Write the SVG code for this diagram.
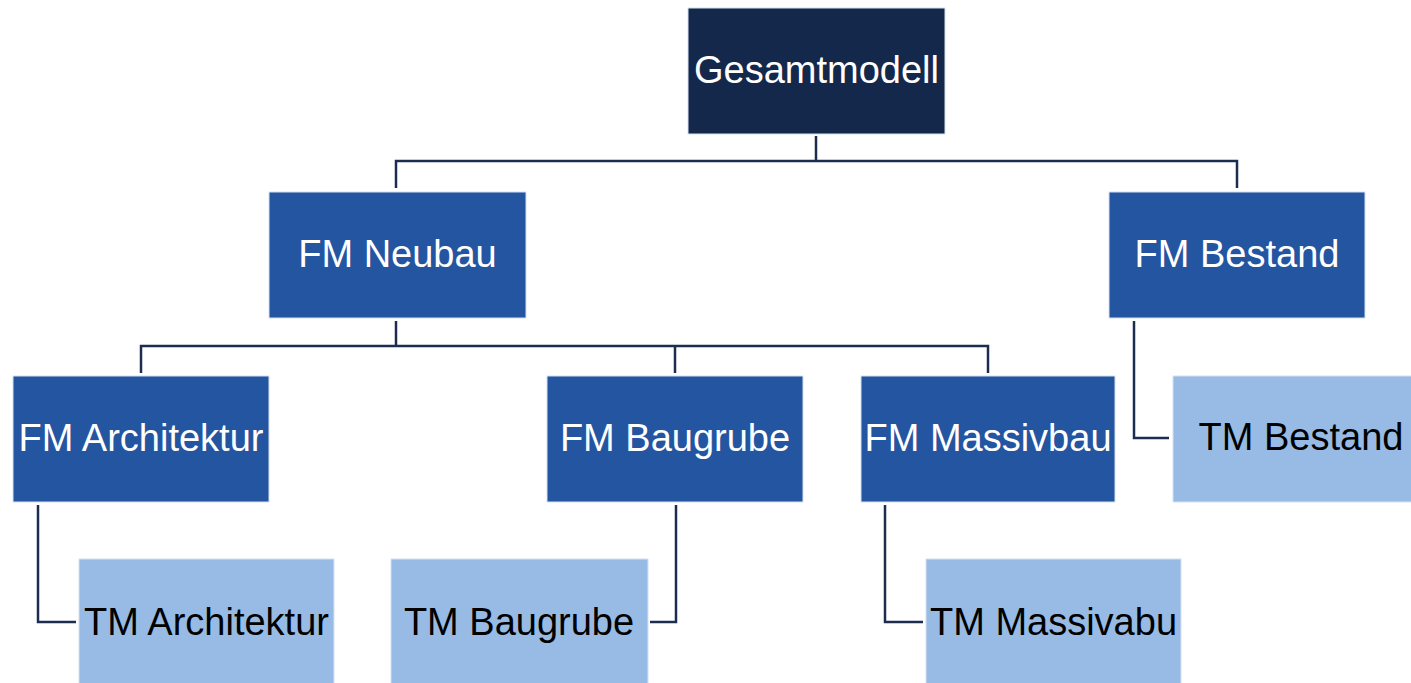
<svg xmlns="http://www.w3.org/2000/svg" width="1411" height="683" viewBox="0 0 1411 683">
<style>
.box{stroke:#d6e2f3;stroke-width:1}
.g{fill:#14284b}
.fm{fill:#2455a0}
.tm{fill:#97bbe4}
.t{font-family:"Liberation Sans",Arial,sans-serif;font-size:38px;text-anchor:middle}
.w{fill:#ffffff}
.k{fill:#000000}
.c{fill:none;stroke:#1c2d4f;stroke-width:2.5}
</style>
<rect width="1411" height="683" fill="#ffffff"/>
<g id="connectors">
<path class="c" d="M816 136V161M396 188V161H1237V188"/>
<path class="c" d="M396 321V346M141 373V346H988V373M675 346V373"/>
<path class="c" d="M38 505V622H76"/>
<path class="c" d="M676 505V622H650"/>
<path class="c" d="M885 505V622H923"/>
<path class="c" d="M1134 321V438H1169"/>
</g>
<g id="gesamtmodell"><rect class="box g" x="688" y="8" width="257" height="126"/><text class="t w" x="816.5" y="83">Gesamtmodell</text></g>
<g id="fm-neubau"><rect class="box fm" x="269" y="192" width="257" height="126"/><text class="t w" x="397.5" y="267">FM Neubau</text></g>
<g id="fm-bestand"><rect class="box fm" x="1109" y="192" width="256" height="126"/><text class="t w" x="1237" y="267">FM Bestand</text></g>
<g id="fm-architektur"><rect class="box fm" x="13" y="376" width="256" height="126"/><text class="t w" x="141" y="451">FM Architektur</text></g>
<g id="fm-baugrube"><rect class="box fm" x="547" y="376" width="256" height="126"/><text class="t w" x="675" y="451">FM Baugrube</text></g>
<g id="fm-massivbau"><rect class="box fm" x="861" y="376" width="254" height="126"/><text class="t w" x="988" y="451">FM Massivbau</text></g>
<g id="tm-bestand"><rect class="box tm" x="1173" y="376" width="256" height="126"/><text class="t k" x="1301" y="450">TM Bestand</text></g>
<g id="tm-architektur"><rect class="box tm" x="79" y="559" width="255" height="126"/><text class="t k" x="206.5" y="635">TM Architektur</text></g>
<g id="tm-baugrube"><rect class="box tm" x="391" y="559" width="257" height="126"/><text class="t k" x="519" y="635">TM Baugrube</text></g>
<g id="tm-massivabu"><rect class="box tm" x="926" y="559" width="255" height="126"/><text class="t k" x="1053.5" y="635">TM Massivabu</text></g>
</svg>
